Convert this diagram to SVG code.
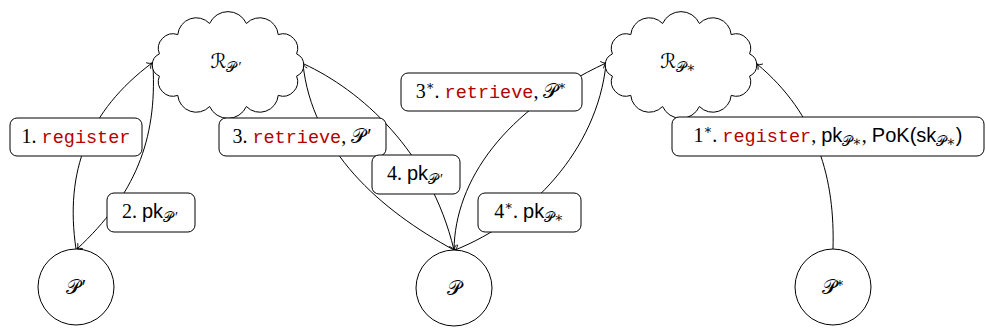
<svg xmlns="http://www.w3.org/2000/svg" width="986" height="329" viewBox="0 0 986 329">
<style>
.ln{fill:none;stroke:#000;stroke-width:1}
.box{fill:#fff;stroke:#000;stroke-width:1}
.node{fill:#fff;stroke:#000;stroke-width:1}
text{fill:#000}
.rm{font-family:"Liberation Serif","DejaVu Serif",serif;font-size:20px}
.tt{font-family:"Liberation Mono","DejaVu Sans Mono",monospace;font-size:18.5px;fill:#b30000}
.sf{font-family:"Liberation Sans","DejaVu Sans",sans-serif;font-size:20px}
.cal{font-family:"DejaVu Serif","DejaVu Sans","Liberation Serif",serif;font-size:20px}
.pr{font-family:"Liberation Serif","DejaVu Serif",serif;font-size:20px}
.sub{font-size:14px}
.sup{font-size:13px}
</style>
<defs>
<marker id="arr" markerWidth="10" markerHeight="10" refX="0" refY="0" viewBox="-6 -5 7 10" orient="auto" markerUnits="userSpaceOnUse">
<path d="M-4.5,-3.8 C-3.2,-1.6 -1.2,-0.4 0,0 C-1.2,0.4 -3.2,1.6 -4.5,3.8" fill="none" stroke="#000" stroke-width="0.9"/>
</marker>
</defs>

<g id="connectors">
<path class="ln" d="M76,249 C64.5,171 88,111 152,63" marker-end="url(#arr)"/>
<path class="ln" d="M153,66 C157,140 135,195 77,249" marker-end="url(#arr)"/>
<path class="ln" d="M454,250 C380,210 312,150 303,64" marker-end="url(#arr)"/>
<path class="ln" d="M304,64 C360,90 430,150 454,250" marker-end="url(#arr)"/>
<path class="ln" d="M454,250 C455,180 505,110 606,63" marker-end="url(#arr)"/>
<path class="ln" d="M606,64 C597,150 530,220 455,250" marker-end="url(#arr)"/>
<path class="ln" d="M833,249 C835,180 818,115 757,64" marker-end="url(#arr)"/>
</g>

<g id="node-R-Pprime">
<path class="node" d="M296.6,76.1 A14.7,14.7 0 0 1 278.2,95.4 A18.5,18.5 0 0 1 246.4,106.5 A20.2,20.2 0 0 1 209.6,106.5 A18.5,18.5 0 0 1 177.8,95.4 A14.7,14.7 0 0 1 159.4,76.1 A12.2,12.2 0 0 1 159.4,53.9 A14.7,14.7 0 0 1 177.8,34.6 A18.5,18.5 0 0 1 209.6,23.5 A20.2,20.2 0 0 1 246.4,23.5 A18.5,18.5 0 0 1 278.2,34.6 A14.7,14.7 0 0 1 296.6,53.9 A12.2,12.2 0 0 1 296.6,76.1 Z"/>
<text x="226" y="68" text-anchor="middle"><tspan class="cal">ℛ</tspan><tspan class="cal sub" dy="4">𝒫</tspan><tspan class="pr sub" dx="2">′</tspan></text>
</g>

<g id="node-R-Pstar">
<path class="node" d="M749.6,76.1 A14.7,14.7 0 0 1 731.2,95.4 A18.5,18.5 0 0 1 699.4,106.5 A20.2,20.2 0 0 1 662.6,106.5 A18.5,18.5 0 0 1 630.8,95.4 A14.7,14.7 0 0 1 612.4,76.1 A12.2,12.2 0 0 1 612.4,53.9 A14.7,14.7 0 0 1 630.8,34.6 A18.5,18.5 0 0 1 662.6,23.5 A20.2,20.2 0 0 1 699.4,23.5 A18.5,18.5 0 0 1 731.2,34.6 A14.7,14.7 0 0 1 749.6,53.9 A12.2,12.2 0 0 1 749.6,76.1 Z"/>
<text x="678" y="68" text-anchor="middle"><tspan class="cal">ℛ</tspan><tspan class="cal sub" dy="4">𝒫∗</tspan></text>
</g>

<g id="node-Pprime">
<circle class="node" cx="76" cy="287" r="38"/>
<text x="76" y="294" text-anchor="middle"><tspan class="cal">𝒫</tspan><tspan class="pr" dx="2">′</tspan></text>
</g>

<g id="node-P">
<circle class="node" cx="454" cy="288" r="38"/>
<text x="454" y="295" text-anchor="middle" class="cal">𝒫</text>
</g>

<g id="node-Pstar">
<circle class="node" cx="833" cy="287" r="38"/>
<text x="833" y="294" text-anchor="middle" class="cal">𝒫<tspan class="sup" dy="-7">∗</tspan></text>
</g>

<g id="edge-labels">
<g id="label-1">
<rect class="box" x="10" y="118" width="132" height="38" rx="7"/>
<text x="76" y="143" text-anchor="middle"><tspan class="rm">1. </tspan><tspan class="tt">register</tspan></text>
</g>
<g id="label-2">
<rect class="box" x="107" y="193" width="88" height="39" rx="7"/>
<text x="150" y="218" text-anchor="middle"><tspan class="rm">2. </tspan><tspan class="sf">pk</tspan><tspan class="cal sub" dy="4">𝒫</tspan><tspan class="pr sub" dx="2">′</tspan></text>
</g>
<g id="label-3">
<rect class="box" x="219" y="118" width="167" height="38" rx="7"/>
<text x="302" y="143" text-anchor="middle"><tspan class="rm">3. </tspan><tspan class="tt">retrieve</tspan><tspan class="rm">, </tspan><tspan class="cal">𝒫</tspan><tspan class="pr" dx="2">′</tspan></text>
</g>
<g id="label-4">
<rect class="box" x="372" y="155" width="88" height="39" rx="7"/>
<text x="415" y="180" text-anchor="middle"><tspan class="rm">4. </tspan><tspan class="sf">pk</tspan><tspan class="cal sub" dy="4">𝒫</tspan><tspan class="pr sub" dx="2">′</tspan></text>
</g>
<g id="label-3star">
<rect class="box" x="401" y="73" width="181" height="38" rx="7"/>
<text x="491" y="98" text-anchor="middle"><tspan class="rm">3</tspan><tspan class="rm sup" dy="-8">∗</tspan><tspan class="rm" dy="8">. </tspan><tspan class="tt">retrieve</tspan><tspan class="rm">, </tspan><tspan class="cal">𝒫</tspan><tspan class="cal sup" dy="-8">∗</tspan></text>
</g>
<g id="label-4star">
<rect class="box" x="478" y="193" width="103" height="39" rx="7"/>
<text x="529" y="218" text-anchor="middle"><tspan class="rm">4</tspan><tspan class="rm sup" dy="-8">∗</tspan><tspan class="rm" dy="8">. </tspan><tspan class="sf">pk</tspan><tspan class="cal sub" dy="4">𝒫∗</tspan></text>
</g>
<g id="label-1star">
<rect class="box" x="672" y="117" width="312" height="39" rx="7"/>
<text x="828" y="142" text-anchor="middle"><tspan class="rm">1</tspan><tspan class="rm sup" dy="-8">∗</tspan><tspan class="rm" dy="8">. </tspan><tspan class="tt">register</tspan><tspan class="rm">, </tspan><tspan class="sf">pk</tspan><tspan class="cal sub" dy="4">𝒫∗</tspan><tspan class="rm" dy="-4">, </tspan><tspan class="sf">PoK(sk</tspan><tspan class="cal sub" dy="4">𝒫∗</tspan><tspan class="sf" dy="-4">)</tspan></text>
</g>
</g>
</svg>
